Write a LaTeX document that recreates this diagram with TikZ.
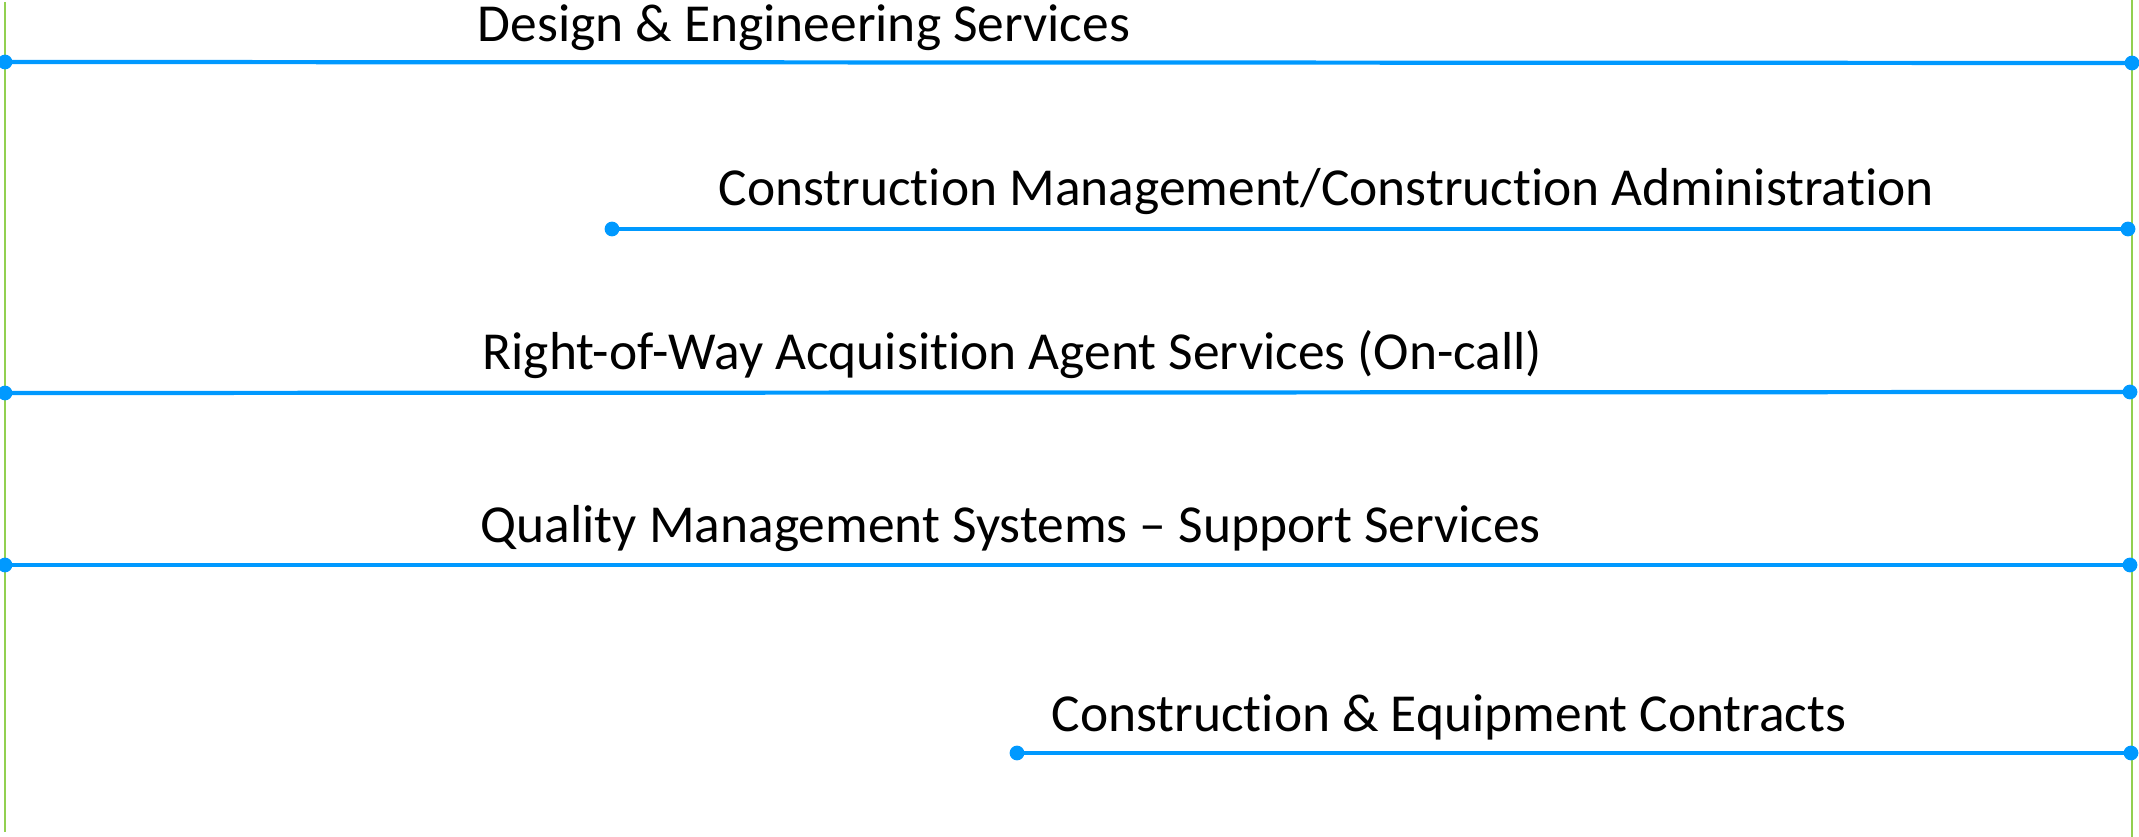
\documentclass[tikz,border=0pt]{standalone}
\usepackage{fontspec}
\setmainfont[Ligatures=NoCommon]{Carlito}
\usetikzlibrary{positioning}

\definecolor{barblue}{RGB}{0,153,255}
\definecolor{limitgreen}{RGB}{146,208,80}

\begin{document}
\begin{tikzpicture}[x=0.01cm, y=-0.01cm,
    bar/.style={line width=1.2pt, draw=barblue},
    limit/.style={line width=0.7pt, draw=limitgreen},
    service/.style={anchor=base west, inner sep=0pt, font=\fontsize{15.2}{18}\selectfont}]
    % Fix the page size
    \useasboundingbox (0,0) rectangle (2139,837);

    % Draw the left and right limits
    \coordinate (LT) at (5,2);
    \coordinate (LB) at (5,832);
    \coordinate (RT) at (2132,0);
    \coordinate (RB) at (2132,837);
    \draw[limit] (LT) -- (LB);
    \draw[limit] (RT) -- (RB);

    % Define the end points of the service bars
    \coordinate (DesA) at (5,62);
    \coordinate (DesB) at (2132,63);
    \coordinate (CmA) at (612,229);
    \coordinate (CmB) at (2128,229);
    \coordinate (RowA) at (5,393);
    \coordinate (RowB) at (2130,392);
    \coordinate (QmsA) at (5,565);
    \coordinate (QmsB) at (2130,565);
    \coordinate (CecA) at (1017,753);
    \coordinate (CecB) at (2131,753);

    % Draw the bars with a dot at each end
    \draw[bar] (DesA) -- (DesB);
    \draw[bar] (CmA) -- (CmB);
    \draw[bar] (RowA) -- (RowB);
    \draw[bar] (QmsA) -- (QmsB);
    \draw[bar] (CecA) -- (CecB);
    \foreach \p in {DesA,DesB,CmA,CmB,RowA,RowB,QmsA,QmsB,CecA,CecB}
        \fill[barblue] (\p) circle (2.1pt);

    % Label each bar
    \node[service] (des) at (477,42) {Design \& Engineering Services};
    \node[service] (cm) at (718,206) {Construction Management/Construction Administration};
    \node[service] (row) at (482,370) {Right-of-Way Acquisition Agent Services (On-call)};
    \node[service] (qms) at (480,542) {Quality Management Systems – Support Services};
    \node[service] (cec) at (1051,731) {Construction \& Equipment Contracts};

\end{tikzpicture}
\end{document}
